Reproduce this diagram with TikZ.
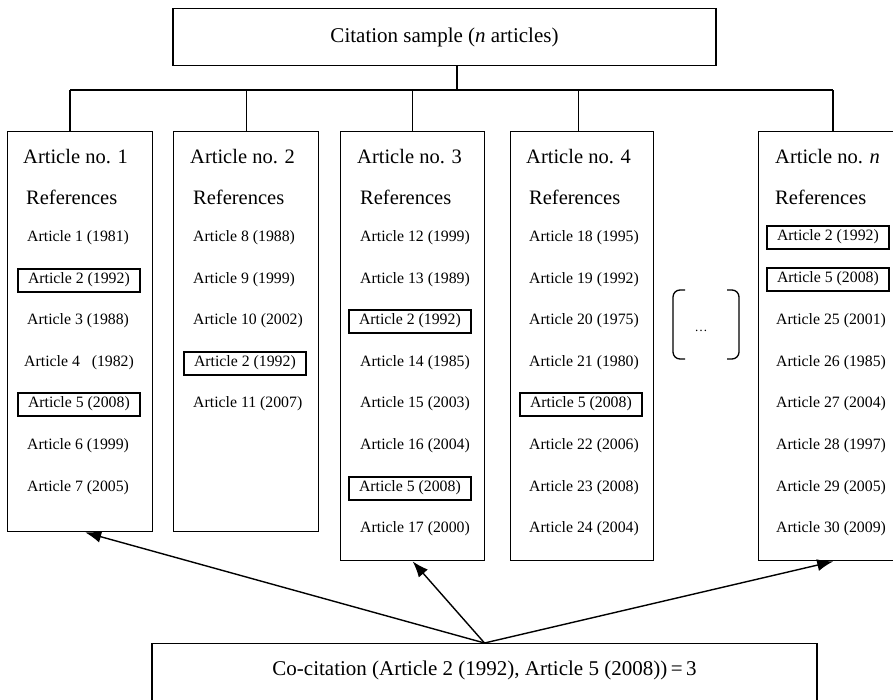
\documentclass[tikz,border=0pt]{standalone}
\usepackage{fontspec}
\setmainfont{Liberation Serif}
\usetikzlibrary{arrows.meta, positioning}

\begin{document}
\begin{tikzpicture}[x=1pt, y=-1pt,
    artbox/.style={draw, line width=1.4pt, anchor=north west, inner sep=0pt},
    headtxt/.style={anchor=west, inner sep=0pt, font=\fontsize{20.5}{24}\selectfont},
    refitem/.style={anchor=west, inner xsep=10pt, inner ysep=2pt, minimum height=23pt,
        text height=11pt, text depth=3.5pt, font=\fontsize{15.8}{18}\selectfont},
    hiref/.style={refitem, draw, line width=2pt},
    busline/.style={line width=1.4pt},
    citearrow/.style={line width=1.4pt, -{Latex[length=16pt, width=12pt]}}]

    \useasboundingbox (0,0) rectangle (893,699);

    % citation sample
    \node[artbox, anchor=north, minimum width=543pt, minimum height=57pt,
        font=\fontsize{21}{25}\selectfont] (sample) at (444.5,8) {Citation sample (\textit{n} articles)};

    % the articles
    \node[artbox, minimum width=145pt, minimum height=400pt] (art1) at (7,131) {};
    \node[artbox, minimum width=145pt, minimum height=400pt] (art2) at (173,131) {};
    \node[artbox, minimum width=144pt, minimum height=429pt] (art3) at (340,131) {};
    \node[artbox, minimum width=143pt, minimum height=429pt] (art4) at (510,131) {};
    \node[artbox, minimum width=149pt, minimum height=429pt] (artn) at (758,131) {};

    \node[headtxt] (head1) at (23,157) {Article no. 1};
    \node[headtxt] (refs1) at (26,197) {References};
    \node[headtxt] (head2) at (190,157) {Article no. 2};
    \node[headtxt] (refs2) at (193,197) {References};
    \node[headtxt] (head3) at (357,157) {Article no. 3};
    \node[headtxt] (refs3) at (360,197) {References};
    \node[headtxt] (head4) at (526,157) {Article no. 4};
    \node[headtxt] (refs4) at (529,197) {References};
    \node[headtxt] (headn) at (775,157) {Article no. \textit{n}};
    \node[headtxt] (refsn) at (775,197) {References};

    % references of article 1
    \node[refitem] (a1r1) at (17,238) {Article 1 (1981)};
    \node[hiref]   (a1r2) at (17,280) {Article 2 (1992)};
    \node[refitem] (a1r3) at (17,321) {Article 3 (1988)};
    \node[refitem] (a1r4) at (14,363) {Article 4\ \ \ (1982)};
    \node[hiref]   (a1r5) at (17,404) {Article 5 (2008)};
    \node[refitem] (a1r6) at (17,446) {Article 6 (1999)};
    \node[refitem] (a1r7) at (17,488) {Article 7 (2005)};

    % references of article 2
    \node[refitem] (a2r1) at (183,238) {Article 8 (1988)};
    \node[refitem] (a2r2) at (183,280) {Article 9 (1999)};
    \node[refitem] (a2r3) at (183,321) {Article 10 (2002)};
    \node[hiref]   (a2r4) at (183,363) {Article 2 (1992)};
    \node[refitem] (a2r5) at (183,404) {Article 11 (2007)};

    % references of article 3
    \node[refitem] (a3r1) at (350,238) {Article 12 (1999)};
    \node[refitem] (a3r2) at (350,280) {Article 13 (1989)};
    \node[hiref]   (a3r3) at (348,321) {Article 2 (1992)};
    \node[refitem] (a3r4) at (350,363) {Article 14 (1985)};
    \node[refitem] (a3r5) at (350,404) {Article 15 (2003)};
    \node[refitem] (a3r6) at (350,446) {Article 16 (2004)};
    \node[hiref]   (a3r7) at (348,488) {Article 5 (2008)};
    \node[refitem] (a3r8) at (350,529) {Article 17 (2000)};

    % references of article 4
    \node[refitem] (a4r1) at (519,238) {Article 18 (1995)};
    \node[refitem] (a4r2) at (519,280) {Article 19 (1992)};
    \node[refitem] (a4r3) at (519,321) {Article 20 (1975)};
    \node[refitem] (a4r4) at (519,363) {Article 21 (1980)};
    \node[hiref]   (a4r5) at (519,404) {Article 5 (2008)};
    \node[refitem] (a4r6) at (519,446) {Article 22 (2006)};
    \node[refitem] (a4r7) at (519,488) {Article 23 (2008)};
    \node[refitem] (a4r8) at (519,529) {Article 24 (2004)};

    % references of article n
    \node[hiref]   (anr1) at (766,237) {Article 2 (1992)};
    \node[hiref]   (anr2) at (766,279) {Article 5 (2008)};
    \node[refitem] (anr3) at (766,321) {Article 25 (2001)};
    \node[refitem] (anr4) at (766,363) {Article 26 (1985)};
    \node[refitem] (anr5) at (766,404) {Article 27 (2004)};
    \node[refitem] (anr6) at (766,446) {Article 28 (1997)};
    \node[refitem] (anr7) at (766,488) {Article 29 (2005)};
    \node[refitem] (anr8) at (766,529) {Article 30 (2009)};

    % the gap between article 4 and article n
    \draw[line width=1.3pt, rounded corners=7pt] (685,290) -- (673,290) -- (673,359) -- (685,359);
    \draw[line width=1.3pt, rounded corners=7pt] (727,290) -- (739,290) -- (739,359) -- (727,359);
    \node[anchor=base, inner sep=0pt, font=\fontsize{13}{15}\selectfont] (gap) at (701,331) {\ldots};

    % tree from the sample
    \coordinate (busL) at (70,90);
    \coordinate (busR) at (833,90);
    \coordinate (stem) at (457,90);
    \draw[busline] (busL) -- (busR);
    \draw[busline] (sample.south -| stem) -- (stem);
    \draw[busline] (art1.north -| busL) -- (busL);
    \draw[busline] (art2.north) -- (art2.north |- busL);
    \draw[busline] (art3.north) -- (art3.north |- busL);
    \draw[busline] ([xshift=-3.5pt]art4.north) -- ([xshift=-3.5pt]art4.north |- busL);
    \draw[busline] (artn.north -| busR) -- (busR);

    % co-citation count
    \node[artbox, anchor=north, minimum width=665pt, minimum height=80pt,
        text height=14pt, text depth=30pt, font=\fontsize{21}{25}\selectfont]
        (cocit) at (484.5,643) {Co-citation (Article 2 (1992), Article 5 (2008))\,=\,3};

    \draw[citearrow] (cocit.north) -- ([xshift=5pt]art1.south);
    \draw[citearrow] (cocit.north) -- (art3.south);
    \draw[citearrow] (cocit.north) -- (artn.south);

\end{tikzpicture}
\end{document}
